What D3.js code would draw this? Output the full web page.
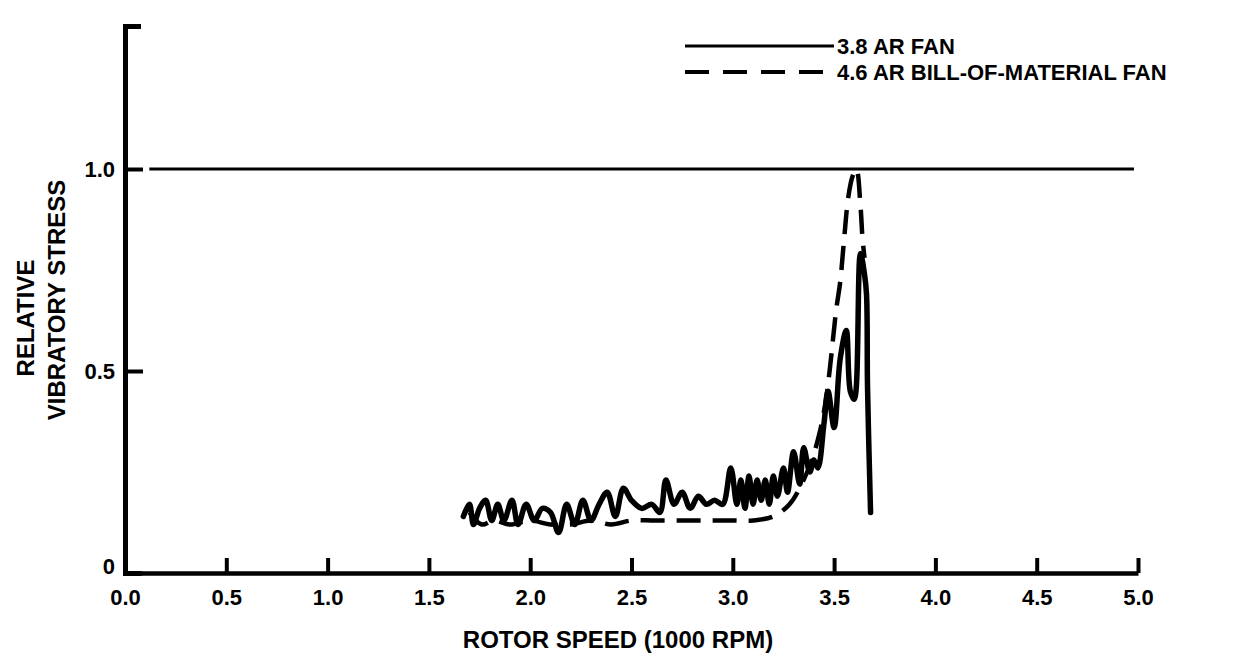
<!DOCTYPE html>
<html>
<head>
<meta charset="utf-8">
<script src="https://cdn.jsdelivr.net/npm/d3@7"></script>
<style>
  body { margin: 0; background: #fff; }
  svg text { font-family: "Liberation Sans", Arial, sans-serif; font-weight: bold; fill: #000; }
</style>
</head>
<body>
<div id="chart"></div>
<script>
const W = 1246;
const H = 657;

// data (speed in 1000 rpm, relative stress)
const solidSpeed = [1.67, 1.70, 1.72, 1.75, 1.78, 1.81, 1.84, 1.87, 1.91, 1.94, 1.98, 2.02, 2.06, 2.10, 2.14, 2.18, 2.22, 2.26, 2.30, 2.34, 2.38, 2.42, 2.46, 2.50, 2.55, 2.60, 2.64, 2.67, 2.71, 2.75, 2.79, 2.83, 2.87, 2.91, 2.95, 2.99, 3.02, 3.04, 3.06, 3.08, 3.10, 3.12, 3.14, 3.16, 3.18, 3.20, 3.22, 3.25, 3.27, 3.30, 3.33, 3.35, 3.38, 3.40, 3.42, 3.45, 3.47, 3.50, 3.53, 3.56, 3.58, 3.60, 3.63, 3.65, 3.66, 3.665, 3.68];
const solidStress = [0.14, 0.17, 0.12, 0.16, 0.18, 0.13, 0.17, 0.13, 0.18, 0.12, 0.17, 0.13, 0.16, 0.15, 0.10, 0.17, 0.12, 0.18, 0.13, 0.17, 0.20, 0.14, 0.21, 0.18, 0.16, 0.17, 0.15, 0.23, 0.17, 0.20, 0.16, 0.19, 0.17, 0.18, 0.17, 0.26, 0.17, 0.23, 0.16, 0.24, 0.17, 0.23, 0.18, 0.23, 0.17, 0.24, 0.19, 0.26, 0.20, 0.30, 0.22, 0.31, 0.25, 0.28, 0.26, 0.37, 0.45, 0.36, 0.53, 0.60, 0.45, 0.43, 0.79, 0.74, 0.69, 0.46, 0.15];

const dashSpeed = [1.70, 1.76, 1.82, 1.90, 2.00, 2.10, 2.20, 2.30, 2.40, 2.50, 2.60, 2.70, 2.80, 2.90, 3.00, 3.10, 3.20, 3.28, 3.34, 3.39, 3.43, 3.46, 3.48, 3.51, 3.53, 3.55, 3.57, 3.59, 3.61, 3.63, 3.64, 3.65];
const dashStress = [0.15, 0.12, 0.13, 0.12, 0.13, 0.12, 0.12, 0.13, 0.12, 0.13, 0.13, 0.13, 0.13, 0.13, 0.13, 0.13, 0.14, 0.17, 0.22, 0.28, 0.35, 0.43, 0.51, 0.65, 0.72, 0.83, 0.93, 0.98, 1.00, 0.91, 0.83, 0.78];

const xTicks = [0, 0.5, 1.0, 1.5, 2.0, 2.5, 3.0, 3.5, 4.0, 4.5, 5.0];
const yTicks = [0, 0.5, 1.0];
const legendLabels = ['3.8 AR FAN', '4.6 AR BILL-OF-MATERIAL FAN'];
const refLevel = 1.0;

const svg = d3.select('#chart').append('svg').attr('width', W).attr('height', H);

const x = d3.scaleLinear().domain([0, 5]).range([125, 1138]);
const y = d3.scaleLinear().domain([0, 1]).range([573, 169]);
const yTop = y.invert(26);

// x axis
const xAxis = svg
  .append('g')
  .attr('transform', `translate(0,${y(0)})`)
  .call(
    d3.axisBottom(x)
      .tickValues(xTicks)
      .tickSizeInner(-15)
      .tickSizeOuter(0)
      .tickPadding(16)
      .tickFormat(d3.format('.1f'))
  );
xAxis.select('.domain').attr('stroke-width', 4.5);
xAxis.selectAll('.tick line').attr('stroke-width', 4);
xAxis.selectAll('.tick text').attr('font-size', 22).attr('dy', '0.71em');

// y axis, running up past 1.0 with a short cap at the top
const yScaleFull = d3.scaleLinear().domain([0, yTop]).range([y(0), y(yTop)]);
const yAxis = svg
  .append('g')
  .attr('transform', `translate(${x(0)},0)`)
  .call(
    d3.axisLeft(yScaleFull)
      .tickValues(yTicks)
      .tickSizeInner(-18)
      .tickSizeOuter(-16)
      .tickPadding(10)
      .tickFormat(d => (d === 0 ? '0' : d.toFixed(1)))
  );
yAxis.select('.domain').attr('stroke-width', 5).attr('fill', 'none');
yAxis.selectAll('.tick line').attr('stroke-width', 4);
yAxis
  .selectAll('.tick text')
  .attr('font-size', 22)
  .attr('dy', d => (d === 0 ? '0.02em' : '0.32em'));

// reference line at 1.0
svg
  .append('line')
  .attr('x1', x(0.12))
  .attr('x2', x(4.98))
  .attr('y1', y(refLevel))
  .attr('y2', y(refLevel))
  .attr('stroke', '#000')
  .attr('stroke-width', 3);

const line = d3
  .line()
  .x(d => x(d[0]))
  .y(d => y(d[1]))
  .curve(d3.curveCatmullRom.alpha(0.5));

// 4.6 AR fan (dashed)
svg
  .append('path')
  .datum(d3.zip(dashSpeed, dashStress))
  .attr('d', line)
  .attr('fill', 'none')
  .attr('stroke', '#000')
  .attr('stroke-width', 4.5)
  .attr('stroke-dasharray', '24 12');

// 3.8 AR fan (solid)
svg
  .append('path')
  .datum(d3.zip(solidSpeed, solidStress))
  .attr('d', line)
  .attr('fill', 'none')
  .attr('stroke', '#000')
  .attr('stroke-width', 5.5)
  .attr('stroke-linejoin', 'round')
  .attr('stroke-linecap', 'round');

// legend
legendLabels.forEach((label, i) => {
  const ly = 46 + i * 26;
  svg
    .append('line')
    .attr('x1', 685)
    .attr('x2', 834)
    .attr('y1', ly)
    .attr('y2', ly)
    .attr('stroke', '#000')
    .attr('stroke-width', i === 0 ? 3 : 4)
    .attr('stroke-dasharray', i === 0 ? null : '24 14');
  svg
    .append('text')
    .attr('x', 837)
    .attr('y', ly + 8)
    .attr('font-size', 22)
    .text(label);
});

// axis titles
svg
  .append('text')
  .attr('x', 618)
  .attr('y', 648)
  .attr('text-anchor', 'middle')
  .attr('font-size', 24)
  .text('ROTOR SPEED (1000 RPM)');

svg
  .append('text')
  .attr('transform', 'translate(34,318) rotate(-90)')
  .attr('text-anchor', 'middle')
  .attr('font-size', 24)
  .text('RELATIVE');

svg
  .append('text')
  .attr('transform', 'translate(65,300) rotate(-90)')
  .attr('text-anchor', 'middle')
  .attr('font-size', 24)
  .text('VIBRATORY STRESS');
</script>
</body>
</html>
